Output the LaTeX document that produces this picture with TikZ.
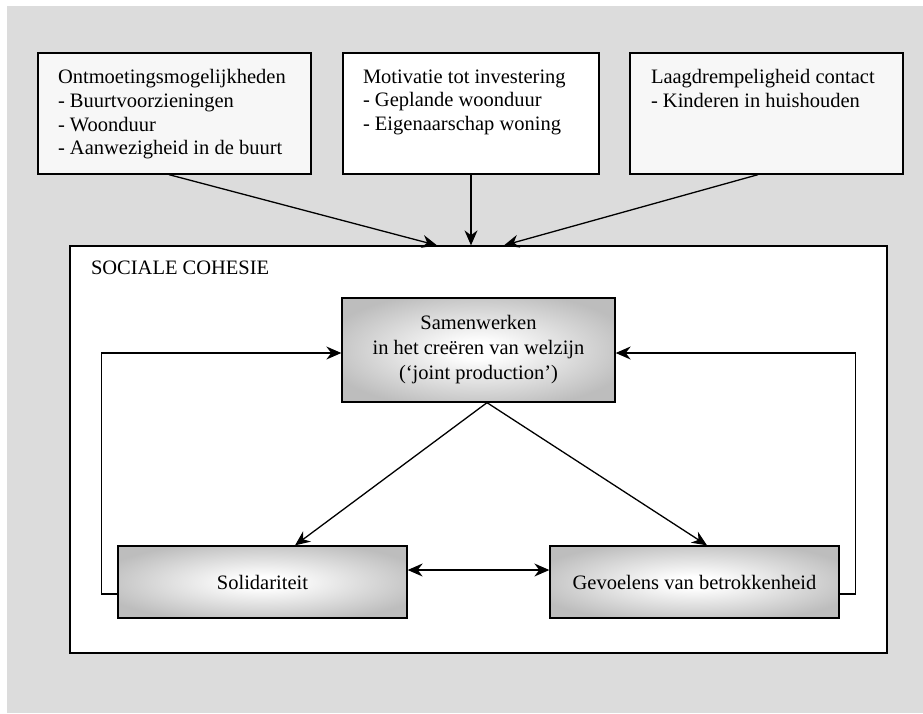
\documentclass[tikz,border=0pt]{standalone}
\usepackage{fontspec}
\setmainfont{Liberation Serif}
\usepackage{tikz}
\usetikzlibrary{arrows.meta}
\definecolor{achtergrond}{HTML}{DCDCDC}
\definecolor{lichtgrijs}{HTML}{F7F7F7}
\definecolor{randgrijs}{HTML}{BDBDBD}
\pgfdeclareradialshading{gloed}{\pgfpoint{0bp}{0bp}}{color(0bp)=(white); color(4bp)=(white); color(29bp)=(randgrijs); color(50bp)=(randgrijs)}

\begin{document}
\begin{tikzpicture}[x=1pt, y=-1pt, line width=1.3pt,
		kader/.style={draw, minimum height=121pt},
		tekst/.style={inner sep=0pt, align=left, anchor=north west, font=\fontsize{20.5}{23.7}\selectfont},
		factor/.style={draw, shade, shading=gloed, inner sep=0pt, align=center, font=\fontsize{20.5}{25}\selectfont},
		pijl/.style={arrows={-Stealth[length=15pt, width=13pt]}}]
		\useasboundingbox (0,0) rectangle (923,713);
		\fill[achtergrond] (7,6) rectangle (923,713);
		\node[kader, fill=lichtgrijs, minimum width=273pt] (ontmoeting) at (174.5,113.5) {};
		\node[kader, fill=white, minimum width=256pt] (motivatie) at (471,113.5) {};
		\node[kader, fill=lichtgrijs, minimum width=273pt] (drempel) at (766.5,113.5) {};
		\node[tekst] (ontmoeting-tekst) at ([xshift=20pt, yshift=-16.5pt]ontmoeting.north west) {Ontmoetingsmogelijkheden\\- Buurtvoorzieningen\\- Woonduur\\- Aanwezigheid in de buurt};
		\node[tekst] (motivatie-tekst) at ([xshift=20pt, yshift=-16.5pt]motivatie.north west) {Motivatie tot investering\\- Geplande woonduur\\- Eigenaarschap woning};
		\node[tekst] (drempel-tekst) at ([xshift=21pt, yshift=-16.5pt]drempel.north west) {Laagdrempeligheid contact\\- Kinderen in huishouden};
		\node[draw, fill=white, minimum width=817pt, minimum height=407pt] (cohesie) at (478.5,449.5) {};
		\node[anchor=west, inner sep=0pt, font=\fontsize{20.5}{24}\selectfont] (cohesie-titel) at ([xshift=21pt, yshift=-22pt]cohesie.north west) {SOCIALE COHESIE};
		\node[factor, minimum width=273pt, minimum height=104pt] (samenwerken) at (478.5,350) {Samenwerken\\in het creëren van welzijn\\(‘joint production’)};
		\node[factor, minimum width=289pt, minimum height=72pt] (solidariteit) at (262.5,582) {Solidariteit};
		\node[factor, minimum width=289pt, minimum height=72pt] (betrokkenheid) at (694.5,582) {Gevoelens van betrokkenheid};
		\draw[pijl] ([xshift=-5.5pt]ontmoeting.south) -- ([xshift=-41.5pt]cohesie.north);
		\draw[pijl] (motivatie.south) -- (motivatie.south |- cohesie.north);
		\draw[pijl] ([xshift=-8.5pt]drempel.south) -- ([xshift=25.5pt]cohesie.north);
		\draw[pijl] ([xshift=8.5pt]samenwerken.south) -- ([xshift=32.5pt]solidariteit.north);
		\draw[pijl] ([xshift=8.5pt]samenwerken.south) -- ([xshift=12.5pt]betrokkenheid.north);
		\draw[arrows={Stealth[length=15pt, width=13pt]-Stealth[length=15pt, width=13pt]}] ([yshift=12pt]solidariteit.east) -- ([yshift=12pt]betrokkenheid.west);
		\draw[pijl] ([yshift=-12pt]solidariteit.west) -- ++(-16,0) |- ([yshift=-3pt]samenwerken.west);
		\draw[pijl] ([yshift=-12pt]betrokkenheid.east) -- ++(16,0) |- ([yshift=-3pt]samenwerken.east);
	\end{tikzpicture}
\end{document}
